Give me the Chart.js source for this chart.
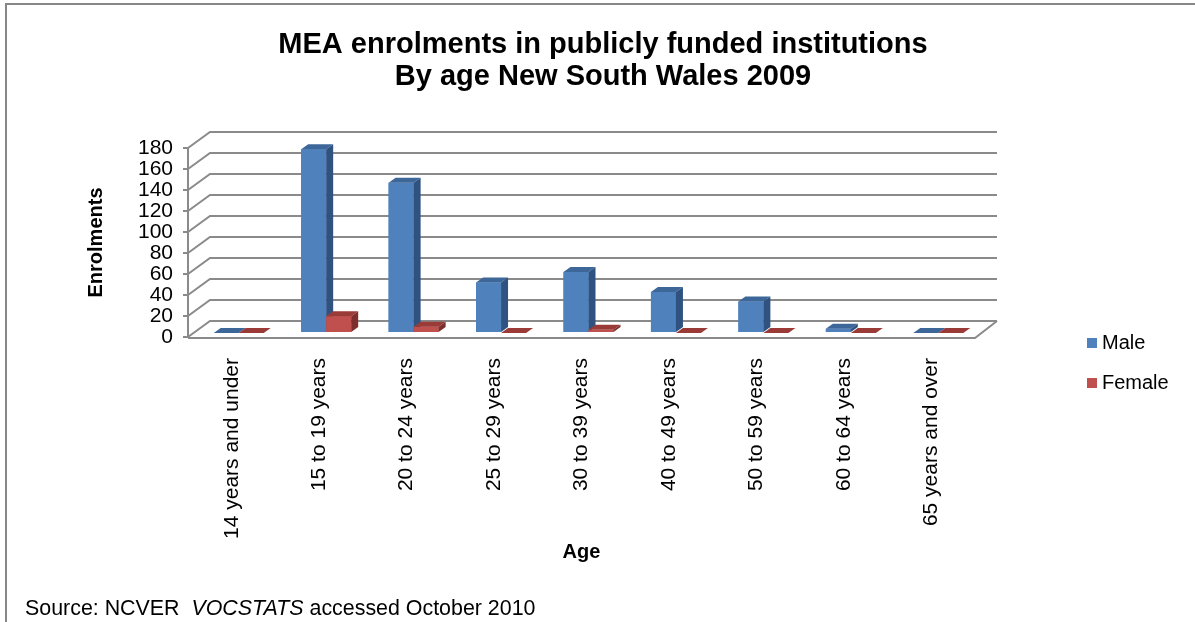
<!DOCTYPE html>
<html lang="en">
<head>
  <meta charset="UTF-8" />
  <title>MEA enrolments by age NSW 2009</title>
  <script src="https://cdn.jsdelivr.net/npm/chart.js@4.4.0/dist/chart.umd.min.js"></script>
  <style>
    html, body { margin: 0; padding: 0; background: #fff; }
    body {
      width: 1195px; height: 622px; position: relative; overflow: hidden;
      font-family: 'Liberation Sans', Arial, sans-serif; color: #000;
    }
    .frame {
      position: absolute; left: 5px; top: 3px; width: 1300px; height: 700px;
      border-top: 2px solid #878787; border-left: 2px solid #878787;
    }
    #chart { position: absolute; left: 0; top: 0; }
    .legend { position: absolute; left: 1087px; top: 330px; font-size: 20px; }
    .legend div { height: 24px; line-height: 24px; margin-bottom: 16px; white-space: nowrap; }
    .legend span.sw { display: inline-block; width: 10px; height: 10px; margin-right: 5px; vertical-align: 1px; }
    .source { position: absolute; left: 25px; top: 596px; font-size: 21.4px; line-height: 24px; white-space: nowrap; }
  </style>
</head>
<body>
  <div class="frame"></div>
  <canvas id="chart" width="1195" height="622"></canvas>
  <div class="legend" id="legend"></div>
  <div class="source">Source: NCVER&nbsp; <i>VOCSTATS</i> accessed October 2010</div>

  <script>
    const ageGroups = ['14 years and under', '15 to 19 years', '20 to 24 years', '25 to 29 years',
      '30 to 39 years', '40 to 49 years', '50 to 59 years', '60 to 64 years', '65 years and over'];
    const maleValues = [0, 175, 143, 48, 58, 39, 30, 4, 0];
    const femaleValues = [0, 16, 6, 0, 3, 0, 0, 0, 0];
    const yTicks = [0, 20, 40, 60, 80, 100, 120, 140, 160, 180];

    const FONT = "'Liberation Sans', Arial, sans-serif";
    const gridColor = '#8a8a8a';

    // front / top / side colours of the boxes
    const faces = [
      { front: '#4F81BD', top: '#3C6798', side: '#2F5281' },
      { front: '#C0504D', top: '#9B3B38', side: '#7E2E2C' }
    ];

    // depth of the walls, offset of the bars, depth of each bar
    const WX = 22, WY = -16;
    const BX = 7, BY = -4;
    const SX = 7, SY = -5;

    function poly(ctx, pts, fill) {
      ctx.beginPath();
      ctx.moveTo(pts[0][0], pts[0][1]);
      for (let i = 1; i < pts.length; i++) ctx.lineTo(pts[i][0], pts[i][1]);
      ctx.closePath();
      ctx.fillStyle = fill;
      ctx.fill();
    }

    const box3d = {
      id: 'box3d',
      beforeDatasetsDraw(chart) {
        const { ctx, chartArea: a, scales: { y } } = chart;
        ctx.save();
        ctx.strokeStyle = gridColor;
        ctx.lineWidth = 2;
        y.ticks.forEach(t => {
          const py = y.getPixelForValue(t.value);
          ctx.beginPath();
          ctx.moveTo(a.left, py);
          ctx.lineTo(a.left + WX, py + WY);
          ctx.lineTo(a.right + WX, py + WY);
          ctx.stroke();
        });
        // floor edge
        const y0 = y.getPixelForValue(0);
        ctx.beginPath();
        ctx.moveTo(a.left, y0 + 1);
        ctx.lineTo(a.right, y0 + 1);
        ctx.lineTo(a.right + WX, y0 + WY);
        ctx.stroke();
        ctx.restore();

        ctx.save();
        ctx.translate(BX, BY);
      },
      afterDatasetsDraw(chart) {
        const ctx = chart.ctx;
        chart.data.datasets.forEach((ds, i) => {
          const meta = chart.getDatasetMeta(i);
          const c = faces[i];
          meta.data.forEach(bar => {
            const { x, y, base, width } = bar.getProps(['x', 'y', 'base', 'width'], true);
            const l = x - width / 2, r = x + width / 2;
            if (base - y > 0) {
              ctx.fillStyle = c.front;
              ctx.fillRect(l, y, width, base - y);
            }
            poly(ctx, [[l, y], [l + SX, y + SY], [r + SX, y + SY], [r, y]], c.top);
            poly(ctx, [[r, y], [r + SX, y + SY], [r + SX, base + SY], [r, base]], c.side);
          });
        });
        ctx.restore();
      }
    };

    const chart = new Chart(document.getElementById('chart'), {
      type: 'bar',
      data: {
        labels: ageGroups,
        datasets: [
          { label: 'Male', data: maleValues, backgroundColor: faces[0].front },
          { label: 'Female', data: femaleValues, backgroundColor: faces[1].front }
        ]
      },
      options: {
        responsive: false,
        animation: false,
        layout: { padding: { left: 11, right: 0, top: 0, bottom: 0 } },
        datasets: { bar: { categoryPercentage: 0.572, barPercentage: 1, clip: false } },
        plugins: {
          legend: { display: false },
          tooltip: { enabled: false },
          title: {
            display: true,
            text: ['MEA enrolments in publicly funded institutions', 'By age New South Wales 2009'],
            color: '#000',
            font: { family: FONT, size: 29, weight: 'bold', lineHeight: 32 / 29 },
            padding: { top: 29, bottom: 55 }
          }
        },
        scales: {
          x: {
            grid: { display: false, drawTicks: false, tickLength: 0 },
            border: { display: false },
            ticks: {
              color: '#000', minRotation: 90, maxRotation: 90, padding: 21, autoSkip: false,
              font: { family: FONT, size: 21 }
            },
            title: {
              display: true, text: 'Age', color: '#000',
              font: { family: FONT, size: 20, weight: 'bold' },
              padding: { top: 0, bottom: 58 }
            },
            afterFit: s => { s.height = 285; }
          },
          y: {
            min: 0, max: 180,
            afterBuildTicks: s => { s.ticks = yTicks.map(v => ({ value: v })); },
            grid: { display: true, drawOnChartArea: false, tickLength: 5, color: gridColor, lineWidth: 2 },
            border: { display: true, color: gridColor, width: 2 },
            ticks: { color: '#000', padding: 10, autoSkip: false, font: { family: FONT, size: 21, lineHeight: 1 } },
            title: {
              display: true, text: 'Enrolments', color: '#000',
              font: { family: FONT, size: 20, weight: 'bold' },
              padding: { top: 73, bottom: 0 }
            },
            afterFit: s => { s.width = 177; }
          },
          // empty space on the right where the legend sits
          yRight: {
            axis: 'y', position: 'right', display: true,
            grid: { display: false }, border: { display: false }, ticks: { display: false },
            afterFit: s => { s.width = 220; }
          }
        }
      },
      plugins: [box3d]
    });

    // legend
    const legendBox = document.getElementById('legend');
    chart.data.datasets.forEach(ds => {
      const row = document.createElement('div');
      row.innerHTML = `<span class="sw" style="background:${ds.backgroundColor}"></span>${ds.label}`;
      legendBox.appendChild(row);
    });
  </script>
</body>
</html>
